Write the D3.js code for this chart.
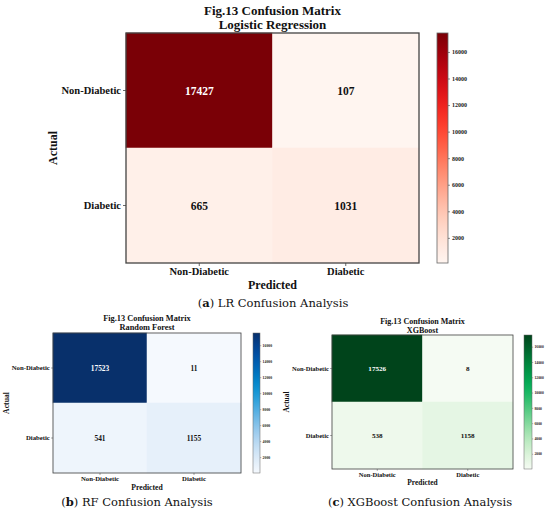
<!DOCTYPE html>
<html>
<head>
<meta charset="utf-8">
<script src="https://cdn.jsdelivr.net/npm/d3@7"></script>
<style>
  body { margin: 0; background: #fff; }
  svg { display: block; }
  text { font-family: "Liberation Serif", "Times New Roman", serif; }
  .caption { font-family: "DejaVu Serif", serif; }
</style>
</head>
<body>
<div id="chart"></div>
<script>
// Class names on both axes
const classLabels = ['Non-Diabetic', 'Diabetic'];

// Confusion matrices, rows = actual, columns = predicted
const lrValues = [[17427, 107], [665, 1031]];
const rfValues = [[17523, 11], [541, 1155]];
const xgbValues = [[17526, 8], [538, 1158]];

// Colorbar tick labels
const colorbarTicks = [2000, 4000, 6000, 8000, 10000, 12000, 14000, 16000];

// Panel titles and captions
const figTitle = 'Fig.13 Confusion Matrix';
const modelNames = ['Logistic Regression', 'Random Forest', 'XGBoost'];
const captionLetters = ['a', 'b', 'c'];
const captionTexts = [' LR Confusion Analysis', ' RF Confusion Analysis', ' XGBoost Confusion Analysis'];

// Colour ramps (light to dark)
const redStops = ['#fff5f0', '#ffe0d4', '#ffbfaa', '#ff9478', '#ff6348', '#ff3424', '#e01018', '#b0000e', '#7a0006'];
const blueStops = ['#f5f9fe', '#d8e8f7', '#b0d4f0', '#78bce8', '#38a4dc', '#0090d0', '#0068b8', '#0048a0', '#08306b'];
const greenStops = ['#f5fbf3', '#d8f2d6', '#ade6b6', '#74d494', '#38c072', '#00b058', '#009043', '#006a30', '#00441b'];

const width = 550;
const height = 514;

const svg = d3.select('#chart')
    .append('svg')
    .attr('width', width)
    .attr('height', height);

const defs = svg.append('defs');

// Layout of the three panels
const panels = [
    { id: 'lr', values: lrValues, stops: redStops, model: modelNames[0], k: 1,
      plot: { x0: 126, x1: 419, y0: 33, y1: 263 }, bar: { x0: 437, x1: 448 },
      caption: { x: 273, y: 307 }, letter: captionLetters[0], text: captionTexts[0] },
    { id: 'rf', values: rfValues, stops: blueStops, model: modelNames[1], k: 0.64,
      plot: { x0: 53, x1: 241, y0: 333, y1: 473 }, bar: { x0: 253, x1: 260 },
      caption: { x: 137, y: 506 }, letter: captionLetters[1], text: captionTexts[1] },
    { id: 'xgb', values: xgbValues, stops: greenStops, model: modelNames[2], k: 0.62,
      plot: { x0: 332, x1: 513, y0: 335, y1: 469 }, bar: { x0: 524, x1: 532 },
      caption: { x: 420, y: 506 }, letter: captionLetters[2], text: captionTexts[2] }
];

panels.forEach(drawPanel);

function drawPanel(p) {
    const k = p.k;
    const flat = p.values.flat();
    const vMin = d3.min(flat);
    const vMax = d3.max(flat);

    const color = d3.scaleSequential(d3.interpolateRgbBasis(p.stops)).domain([vMin, vMax]);

    const x = d3.scaleBand().domain(classLabels).range([p.plot.x0, p.plot.x1]);
    const y = d3.scaleBand().domain(classLabels).range([p.plot.y0, p.plot.y1]);

    const g = svg.append('g');

    // Cells
    const cells = [];
    p.values.forEach((row, i) => {
        row.forEach((v, j) => {
            cells.push({ actual: classLabels[i], predicted: classLabels[j], value: v });
        });
    });

    g.selectAll('rect.cell')
        .data(cells)
        .enter()
        .append('rect')
        .attr('class', 'cell')
        .attr('x', d => x(d.predicted))
        .attr('y', d => y(d.actual))
        .attr('width', x.bandwidth())
        .attr('height', y.bandwidth())
        .attr('fill', d => color(d.value))
        .attr('stroke', d => color(d.value))
        .attr('stroke-width', 0.5);

    g.selectAll('text.val')
        .data(cells)
        .enter()
        .append('text')
        .attr('class', 'val')
        .attr('x', d => x(d.predicted) + x.bandwidth() / 2)
        .attr('y', d => y(d.actual) + y.bandwidth() / 2)
        .attr('dy', '0.35em')
        .attr('text-anchor', 'middle')
        .attr('font-weight', 'bold')
        .attr('font-size', 11.5 * k)
        .attr('fill', d => d.value > (vMin + vMax) / 2 ? '#ffffff' : '#111111')
        .text(d => d.value);

    // Plot frame
    g.append('rect')
        .attr('x', p.plot.x0)
        .attr('y', p.plot.y0)
        .attr('width', p.plot.x1 - p.plot.x0)
        .attr('height', p.plot.y1 - p.plot.y0)
        .attr('fill', 'none')
        .attr('stroke', '#444')
        .attr('stroke-width', 1.3 * k);

    // Axes
    const yAxisGroup = g.append('g')
        .attr('transform', `translate(${p.plot.x0}, 0)`)
        .call(d3.axisLeft(y).tickSizeOuter(0).tickSize(3 * k).tickPadding(2 * k));
    const xAxisGroup = g.append('g')
        .attr('transform', `translate(0, ${p.plot.y1})`)
        .call(d3.axisBottom(x).tickSizeOuter(0).tickSize(3 * k).tickPadding(2 * k));

    [xAxisGroup, yAxisGroup].forEach(ax => {
        ax.select('.domain').remove();
        ax.selectAll('line').attr('stroke', '#444').attr('stroke-width', 0.8 * k);
        ax.selectAll('text')
            .attr('fill', '#111')
            .attr('font-weight', 'bold')
            .attr('font-family', '"Liberation Serif", serif')
            .style('font-size', `${10.5 * k}px`);
    });

    const cx = (p.plot.x0 + p.plot.x1) / 2;
    const cy = (p.plot.y0 + p.plot.y1) / 2;

    // Axis titles
    g.append('text')
        .attr('x', cx)
        .attr('y', p.plot.y1 + 26 * k)
        .attr('text-anchor', 'middle')
        .attr('font-weight', 'bold')
        .attr('font-size', 12 * k)
        .attr('fill', '#111')
        .text('Predicted');

    g.append('text')
        .attr('transform', `translate(${p.plot.x0 - 73 * k}, ${cy}) rotate(-90)`)
        .attr('dy', '0.35em')
        .attr('text-anchor', 'middle')
        .attr('font-weight', 'bold')
        .attr('font-size', 12 * k)
        .attr('fill', '#111')
        .text('Actual');

    // Title (two lines)
    g.append('text')
        .attr('x', cx)
        .attr('y', p.plot.y0 - 18 * k)
        .attr('text-anchor', 'middle')
        .attr('font-weight', 'bold')
        .attr('font-size', 13 * k)
        .attr('fill', '#111')
        .text(figTitle);
    g.append('text')
        .attr('x', cx)
        .attr('y', p.plot.y0 - 4 * k)
        .attr('text-anchor', 'middle')
        .attr('font-weight', 'bold')
        .attr('font-size', 13 * k)
        .attr('fill', '#111')
        .text(p.model);

    // Colorbar
    const gradId = 'grad-' + p.id;
    const grad = defs.append('linearGradient')
        .attr('id', gradId)
        .attr('x1', 0).attr('y1', 1)
        .attr('x2', 0).attr('y2', 0);
    d3.range(0, 1.0001, 0.05).forEach(t => {
        grad.append('stop')
            .attr('offset', t)
            .attr('stop-color', color(vMin + t * (vMax - vMin)));
    });

    const cb = d3.scaleLinear().domain([vMin, vMax]).range([p.plot.y1, p.plot.y0]);

    g.append('rect')
        .attr('x', p.bar.x0)
        .attr('y', p.plot.y0)
        .attr('width', p.bar.x1 - p.bar.x0)
        .attr('height', p.plot.y1 - p.plot.y0)
        .attr('fill', `url(#${gradId})`)
        .attr('stroke', '#666')
        .attr('stroke-width', 0.8 * k);

    const cbAxis = g.append('g')
        .attr('transform', `translate(${p.bar.x1}, 0)`)
        .call(d3.axisRight(cb)
            .tickValues(colorbarTicks)
            .tickFormat(d3.format('d'))
            .tickSize(2 * k)
            .tickPadding(2 * k)
            .tickSizeOuter(0));
    cbAxis.select('.domain').remove();
    cbAxis.selectAll('line').attr('stroke', '#444').attr('stroke-width', 0.6 * k);
    cbAxis.selectAll('text')
        .attr('fill', '#222')
        .attr('font-weight', 'bold')
        .attr('font-family', '"Liberation Serif", serif')
        .style('font-size', `${6 * k}px`);

    // Caption
    const cap = svg.append('text')
        .attr('class', 'caption')
        .attr('x', p.caption.x)
        .attr('y', p.caption.y)
        .attr('text-anchor', 'middle')
        .attr('font-size', 11.5)
        .attr('fill', '#111');
    cap.append('tspan').text('(');
    cap.append('tspan').attr('font-weight', 'bold').text(p.letter);
    cap.append('tspan').text(')' + p.text);
}
</script>
</body>
</html>
